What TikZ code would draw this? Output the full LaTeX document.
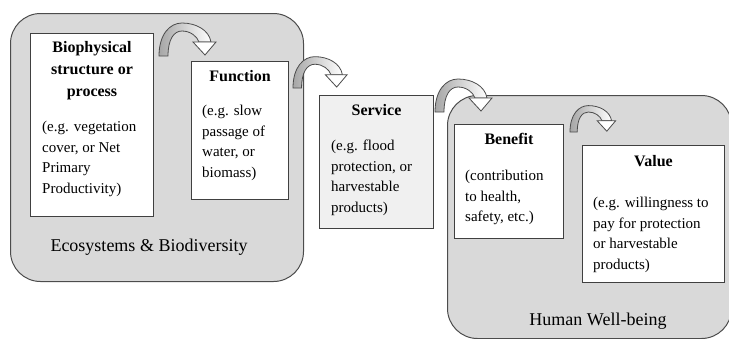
\documentclass[tikz,border=0pt]{standalone}
\usepackage{fontspec}
\setmainfont{Liberation Serif}

\tikzset{
  bendarrow/.pic={
    \draw[draw=black!70,line width=.8pt,left color=black!35,right color=white]
      (0,0) .. controls (0,-22) and (11,-33) .. (23,-33)
      .. controls (37,-33) and (50,-26) .. (52,-14) -- (40,-14)
      .. controls (38,-20) and (31,-25) .. (23,-25)
      .. controls (15,-25) and (9,-17) .. (9,0) -- cycle;
    \draw[draw=black!70,line width=.8pt,fill=white] (34,-14) -- (57,-14) -- (46,-1) -- cycle;
  }
}

\begin{document}
\begin{tikzpicture}[x=1pt,y=-1pt,
    bigbox/.style={draw=black!70,line width=1pt,fill=black!15,rounded corners=30pt,anchor=north west,inner sep=0pt},
    textbox/.style={draw=black!75,line width=1pt,fill=white,anchor=north west,inner sep=0pt},
    titletext/.style={anchor=north,inner sep=0pt,align=center,font=\fontsize{16}{22}\selectfont\bfseries},
    bodytext/.style={anchor=north west,inner sep=0pt,align=left,font=\fontsize{15}{20.5}\selectfont},
    biglabel/.style={inner sep=0pt,font=\fontsize{18}{22}\selectfont}]
  \useasboundingbox (0,0) rectangle (729,338);
  % the two realms
  \node[bigbox,minimum width=293pt,minimum height=268pt] (eco) at (10,13) {};
  \node[bigbox,minimum width=284pt,minimum height=243pt] (human) at (447,95) {};
  \node[biglabel] (ecolabel) at (149,247) {Ecosystems \& Biodiversity};
  \node[biglabel] (humanlabel) at (598,321) {Human Well-being};
  % boxes
  \node[textbox,minimum width=123pt,minimum height=183pt] (bio) at (30,33) {};
  \node[textbox,minimum width=97pt,minimum height=138pt] (func) at (191,61) {};
  \node[textbox,fill=black!6,minimum width=114pt,minimum height=133pt] (serv) at (319,95) {};
  \node[textbox,minimum width=109pt,minimum height=114pt] (bene) at (454,124) {};
  \node[textbox,minimum width=142pt,minimum height=137pt] (val) at (582,145) {};
  % texts
  \node[titletext] (biotitle) at ([yshift=-8pt]bio.north) {Biophysical\\structure or\\process};
  \node[bodytext] (biobody) at ([shift={(12pt,-88pt)}]bio.north west) {(e.g. vegetation\\cover, or Net\\Primary\\Productivity)};
  \node[titletext] (functitle) at ([yshift=-9pt]func.north) {Function};
  \node[bodytext] (funcbody) at ([shift={(11pt,-44pt)}]func.north west) {(e.g. slow\\passage of\\water, or\\biomass)};
  \node[titletext] (servtitle) at ([yshift=-9pt]serv.north) {Service};
  \node[bodytext] (servbody) at ([shift={(12pt,-45pt)}]serv.north west) {(e.g. flood\\protection, or\\harvestable\\products)};
  \node[titletext] (benetitle) at ([yshift=-9pt]bene.north) {Benefit};
  \node[bodytext] (benebody) at ([shift={(11pt,-46pt)}]bene.north west) {(contribution\\to health,\\safety, etc.)};
  \node[titletext] (valtitle) at ([yshift=-10pt]val.north) {Value};
  \node[bodytext] (valbody) at ([shift={(11pt,-52pt)}]val.north west) {(e.g. willingness to\\pay for protection\\or harvestable\\products)};
  % curved arrows
  \pic at (159,56) {bendarrow};
  \pic[scale=.95] at (293,88) {bendarrow};
  \pic at (435,112) {bendarrow};
  \pic[scale=.8] at (570,132) {bendarrow};
\end{tikzpicture}
\end{document}
